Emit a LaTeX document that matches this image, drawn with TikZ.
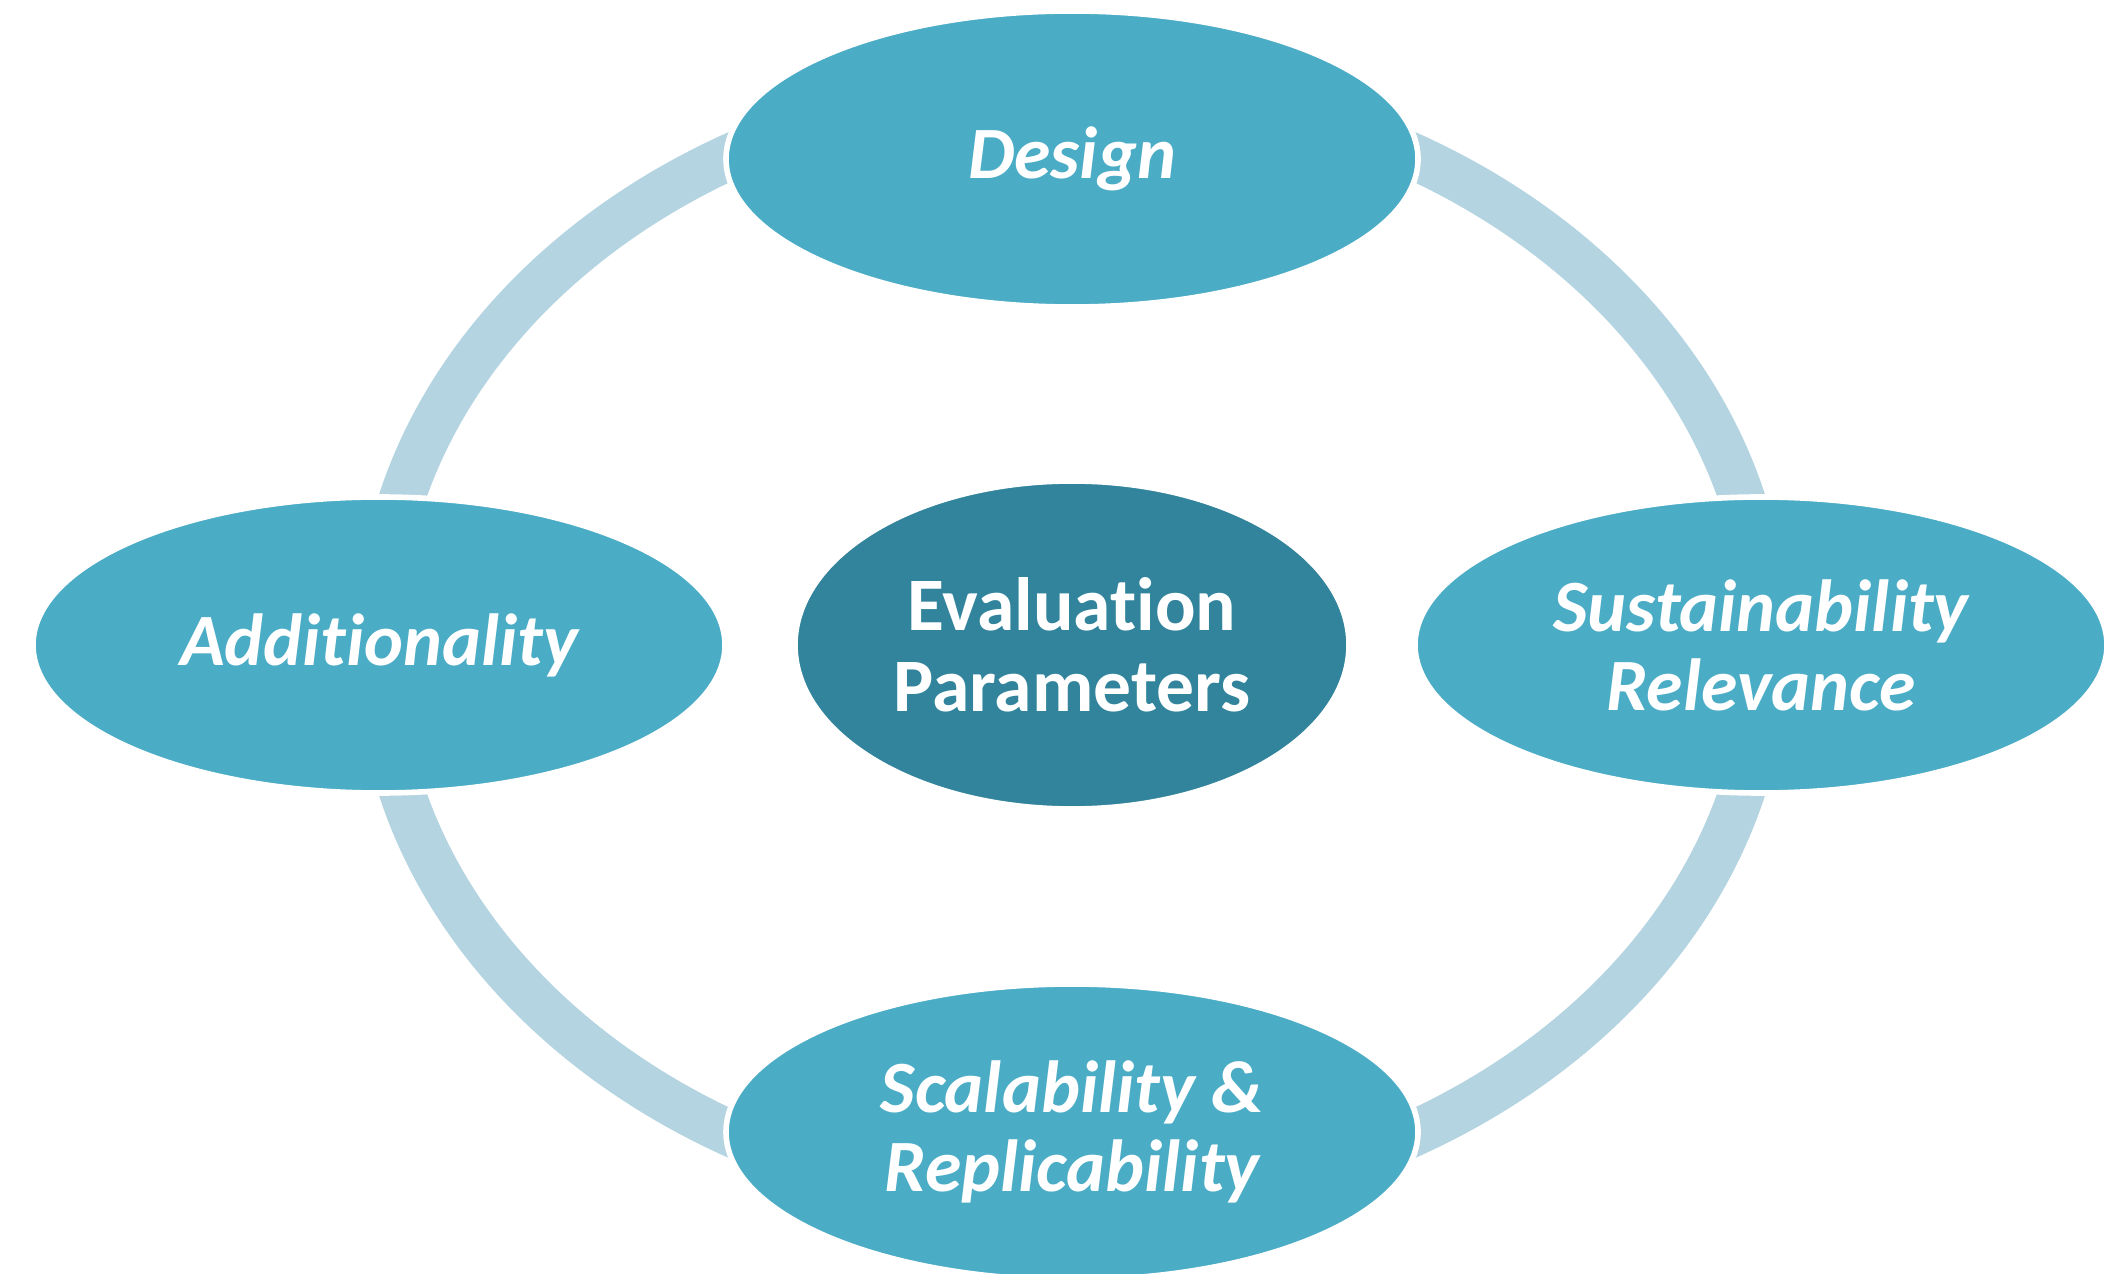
\documentclass[tikz,border=0pt]{standalone}
\usepackage{fontspec}
\setmainfont{Carlito}[Ligatures={NoCommon}]
\usetikzlibrary{shapes.geometric,backgrounds}

\definecolor{petal}{HTML}{4BACC6}
\definecolor{hub}{HTML}{31849B}
\definecolor{ringblue}{HTML}{B3D4E0}

\begin{document}
\begin{tikzpicture}
    \tikzset{
        petal/.style={ellipse, fill=petal, draw=white, line width=1.6pt,
            minimum width=6.92cm, minimum height=2.96cm, inner sep=0pt,
            text=white, align=center,
            font=\fontsize{21}{22.5}\selectfont\bfseries\itshape},
        hub/.style={ellipse, fill=hub, draw=white, line width=1.6pt,
            minimum width=5.54cm, minimum height=3.28cm, inner sep=0pt,
            text=white, align=center,
            font=\fontsize{21.5}{23}\selectfont\bfseries},
        ring/.style={draw=ringblue, line width=0.46cm}
    }
    \useasboundingbox (0,0) rectangle (21.08,-12.74);

    % hub and the four parameters
    \node[hub]   (centre)  at (10.72,-6.45)  {Evaluation\\Parameters};
    \node[petal] (design)  at (10.72,-1.59)  {Design};
    \node[petal] (addit)   at (3.79,-6.45)   {Additionality};
    \node[petal] (sustain) at (17.61,-6.45)  {Sustainability\\Relevance};
    \node[petal] (scale)   at (10.72,-11.32) {Scalability \&\\Replicability};

    % ring behind the parameters
    \begin{scope}[on background layer]
        \draw[ring] (centre.center) ellipse [x radius=6.94cm, y radius=5.61cm];
    \end{scope}
\end{tikzpicture}
\end{document}
